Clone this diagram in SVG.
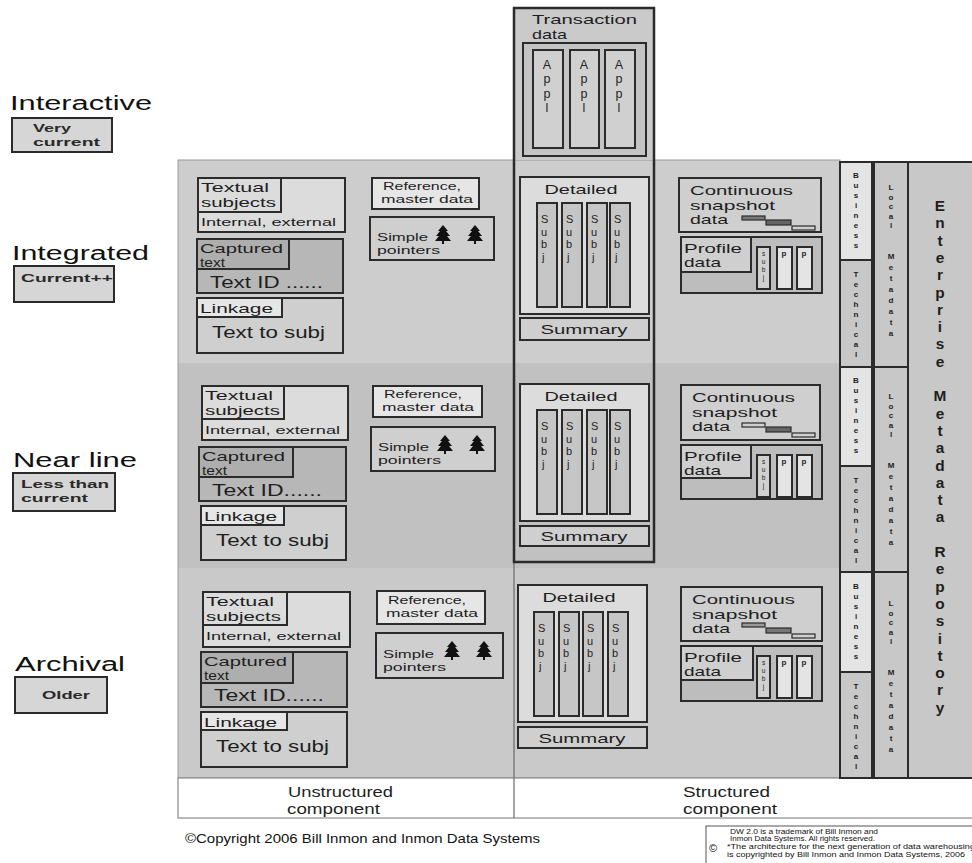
<svg xmlns="http://www.w3.org/2000/svg" width="972" height="863" viewBox="0 0 972 863">
<style>
.b{stroke:#2b2b2b;stroke-width:2}
.bt{stroke:#2b2b2b;stroke-width:2.5;fill:none}
.f{font-family:"Liberation Sans",Arial,sans-serif;fill:#1e1e1e}
.a{font-family:"Liberation Sans",Arial,sans-serif;fill:#111}
.lb{font-family:"Liberation Sans",Arial,sans-serif;fill:#2a2a2a;font-weight:700;font-size:11.5px}
.lt{fill:#dcdcdc}
.md{fill:#cfcfcf}
.dk{fill:#b7b7b7}
.dk2{fill:#aeaeae}
.wh{fill:#e6e6e6}
.col{fill:#c6c6c6;stroke:#2b2b2b;stroke-width:2}
.s13{font-size:13px}
.s12{font-size:12.4px}
.s11{font-size:11px}
.s16{font-size:16px}
.mid{text-anchor:middle}
.lv{font-family:"Liberation Sans",Arial,sans-serif;fill:#1e1e1e}
.sj{font-size:11px}
.ap{font-size:12.5px;text-anchor:middle}
.en{font-size:15.4px;font-weight:700;text-anchor:middle}
.v8{font-size:8px;font-weight:700;text-anchor:middle}
.ps{font-size:6.5px;text-anchor:middle}
</style>
<defs>
<path id="tree" d="M8 0 L13 6 L11 6 L15 11 L12 11 L16 16 L9 16 L9 19 L7 19 L7 16 L0 16 L4 11 L1 11 L5 6 L3 6 Z" fill="#111"/>
</defs>

<rect width="972" height="863" fill="#ffffff"/>

<g id="bands">
<rect x="178" y="160" width="662" height="203" fill="#cdcdcd"/>
<rect x="178" y="363" width="662" height="205" fill="#c1c1c1"/>
<rect x="178" y="568" width="662" height="210" fill="#c9c9c9"/>
<rect x="178" y="160" width="662" height="618" fill="none" stroke="#9a9a9a" stroke-width="1"/>
</g>

<g id="components">
<rect x="178" y="778" width="798" height="40" fill="#ffffff" stroke="#8a8a8a" stroke-width="1.2"/>
<text class="f" font-size="14.8" x="288" y="797" textLength="105" lengthAdjust="spacingAndGlyphs">Unstructured</text>
<text class="f" font-size="14.8" x="287" y="814" textLength="93" lengthAdjust="spacingAndGlyphs">component</text>
<text class="f" font-size="14.8" x="683" y="797" textLength="87" lengthAdjust="spacingAndGlyphs">Structured</text>
<text class="f" font-size="14.8" x="683" y="814" textLength="94" lengthAdjust="spacingAndGlyphs">component</text>
</g>

<g id="connectors">
<line x1="514" y1="160" x2="514" y2="818" stroke="#6a6a6a" stroke-width="1.2"/>
</g>

<!-- left labels -->
<g id="lbl-interactive">
<text class="a" font-size="20" x="10" y="110" textLength="142" lengthAdjust="spacingAndGlyphs">Interactive</text>
<rect class="b" fill="#d6d6d6" x="12" y="118" width="100" height="34"/>
<text class="lb" x="33" y="132" textLength="38" lengthAdjust="spacingAndGlyphs">Very</text>
<text class="lb" x="33" y="146" textLength="67" lengthAdjust="spacingAndGlyphs">current</text>
</g>
<g id="lbl-integrated">
<text class="a" font-size="20" x="12" y="260" textLength="137" lengthAdjust="spacingAndGlyphs">Integrated</text>
<rect class="b" fill="#d6d6d6" x="14" y="266" width="100" height="36"/>
<text class="lb" x="21" y="282" textLength="92" lengthAdjust="spacingAndGlyphs">Current++</text>
</g>
<g id="lbl-nearline">
<text class="a" font-size="20" x="13" y="467" textLength="124" lengthAdjust="spacingAndGlyphs">Near line</text>
<rect class="b" fill="#d6d6d6" x="13" y="473" width="102" height="38"/>
<text class="lb" x="21" y="488" textLength="88" lengthAdjust="spacingAndGlyphs">Less than</text>
<text class="lb" x="21" y="502" textLength="67" lengthAdjust="spacingAndGlyphs">current</text>
</g>
<g id="lbl-archival">
<text class="a" font-size="20" x="15" y="671" textLength="110" lengthAdjust="spacingAndGlyphs">Archival</text>
<rect class="b" fill="#d6d6d6" x="15" y="677" width="92" height="36"/>
<text class="lb" x="42" y="699" textLength="48" lengthAdjust="spacingAndGlyphs">Older</text>
</g>

<!-- Transaction data -->
<g id="transaction">
<rect x="514" y="8" width="140" height="152" fill="#cacaca"/>
<rect class="bt" x="514" y="8" width="140" height="554"/>
<text class="f s13" x="532" y="24" textLength="105" lengthAdjust="spacingAndGlyphs">Transaction</text>
<text class="f s13" x="532" y="39" textLength="35" lengthAdjust="spacingAndGlyphs">data</text>
<rect class="b" fill="#c4c4c4" x="523" y="43" width="123" height="113"/>
<g id="appl1"><rect class="b" fill="#d0d0d0" x="533" y="50" width="30" height="98"/><text class="lv ap"><tspan x="547" y="69">A</tspan><tspan x="547" y="83.3">p</tspan><tspan x="547" y="97.6">p</tspan><tspan x="547" y="111.9">l</tspan></text></g>
<g id="appl2"><rect class="b" fill="#d0d0d0" x="570" y="50" width="29" height="98"/><text class="lv ap"><tspan x="584" y="69">A</tspan><tspan x="584" y="83.3">p</tspan><tspan x="584" y="97.6">p</tspan><tspan x="584" y="111.9">l</tspan></text></g>
<g id="appl3"><rect class="b" fill="#d0d0d0" x="605" y="50" width="30" height="98"/><text class="lv ap"><tspan x="619" y="69">A</tspan><tspan x="619" y="83.3">p</tspan><tspan x="619" y="97.6">p</tspan><tspan x="619" y="111.9">l</tspan></text></g>
</g>

<!-- ===== Unstructured nodes ===== -->
<g id="int-textual" transform="translate(198,178)">
<rect class="b lt" width="147" height="54"/><rect class="b lt" width="83" height="34"/>
<text class="f s13" x="3" y="14" textLength="68" lengthAdjust="spacingAndGlyphs">Textual</text>
<text class="f s13" x="3" y="29" textLength="75" lengthAdjust="spacingAndGlyphs">subjects</text>
<text class="f s11" x="3" y="48" textLength="135" lengthAdjust="spacingAndGlyphs">Internal, external</text>
</g>
<g id="int-captured" transform="translate(197,239)">
<rect class="b dk" width="146" height="54"/><rect class="b dk2" width="92" height="30"/>
<text class="f s12" x="3" y="14" textLength="83" lengthAdjust="spacingAndGlyphs">Captured</text>
<text class="f" font-size="12" x="3" y="28" textLength="25" lengthAdjust="spacingAndGlyphs">text</text>
<text class="f s16" x="13" y="49" textLength="113" lengthAdjust="spacingAndGlyphs">Text ID ......</text>
</g>
<g id="int-linkage" transform="translate(197,298)">
<rect class="b md" width="146" height="55"/><rect class="b wh" width="85" height="19"/>
<text class="f s13" x="3" y="15" textLength="73" lengthAdjust="spacingAndGlyphs">Linkage</text>
<text class="f s16" x="15" y="40" textLength="113" lengthAdjust="spacingAndGlyphs">Text to subj</text>
</g>
<g id="int-reference" transform="translate(372,178)">
<rect class="b wh" width="107" height="31"/>
<text class="f s11" x="11" y="12" textLength="78" lengthAdjust="spacingAndGlyphs">Reference,</text>
<text class="f s11" x="9" y="25" textLength="92" lengthAdjust="spacingAndGlyphs">master data</text>
</g>
<g id="int-pointers" transform="translate(370,217)">
<rect class="b md" width="124" height="43"/>
<text class="f s11" x="7" y="24" textLength="51" lengthAdjust="spacingAndGlyphs">Simple</text>
<text class="f s11" x="7" y="37" textLength="63" lengthAdjust="spacingAndGlyphs">pointers</text>
<use href="#tree" x="65" y="8"/><use href="#tree" x="97" y="8"/>
</g>

<g id="near-textual" transform="translate(202,386)">
<rect class="b lt" width="146" height="54"/><rect class="b lt" width="82" height="33"/>
<text class="f s13" x="3" y="14" textLength="68" lengthAdjust="spacingAndGlyphs">Textual</text>
<text class="f s13" x="3" y="29" textLength="75" lengthAdjust="spacingAndGlyphs">subjects</text>
<text class="f s11" x="3" y="48" textLength="135" lengthAdjust="spacingAndGlyphs">Internal, external</text>
</g>
<g id="near-captured" transform="translate(199,447)">
<rect class="b dk" width="147" height="54"/><rect class="b dk2" width="94" height="30"/>
<text class="f s12" x="3" y="14" textLength="83" lengthAdjust="spacingAndGlyphs">Captured</text>
<text class="f" font-size="12" x="3" y="28" textLength="25" lengthAdjust="spacingAndGlyphs">text</text>
<text class="f s16" x="13" y="49" textLength="110" lengthAdjust="spacingAndGlyphs">Text ID......</text>
</g>
<g id="near-linkage" transform="translate(201,506)">
<rect class="b md" width="145" height="54"/><rect class="b wh" width="83" height="19"/>
<text class="f s13" x="3" y="15" textLength="73" lengthAdjust="spacingAndGlyphs">Linkage</text>
<text class="f s16" x="15" y="40" textLength="113" lengthAdjust="spacingAndGlyphs">Text to subj</text>
</g>
<g id="near-reference" transform="translate(373,386)">
<rect class="b wh" width="109" height="31"/>
<text class="f s11" x="11" y="12" textLength="78" lengthAdjust="spacingAndGlyphs">Reference,</text>
<text class="f s11" x="9" y="25" textLength="92" lengthAdjust="spacingAndGlyphs">master data</text>
</g>
<g id="near-pointers" transform="translate(371,427)">
<rect class="b md" width="124" height="44"/>
<text class="f s11" x="7" y="24" textLength="51" lengthAdjust="spacingAndGlyphs">Simple</text>
<text class="f s11" x="7" y="37" textLength="63" lengthAdjust="spacingAndGlyphs">pointers</text>
<use href="#tree" x="66" y="8"/><use href="#tree" x="98" y="8"/>
</g>

<g id="arch-textual" transform="translate(203,592)">
<rect class="b lt" width="147" height="55"/><rect class="b lt" width="84" height="33"/>
<text class="f s13" x="3" y="14" textLength="68" lengthAdjust="spacingAndGlyphs">Textual</text>
<text class="f s13" x="3" y="29" textLength="75" lengthAdjust="spacingAndGlyphs">subjects</text>
<text class="f s11" x="3" y="48" textLength="135" lengthAdjust="spacingAndGlyphs">Internal, external</text>
</g>
<g id="arch-captured" transform="translate(201,652)">
<rect class="b dk" width="146" height="55"/><rect class="b dk2" width="92" height="31"/>
<text class="f s12" x="3" y="14" textLength="83" lengthAdjust="spacingAndGlyphs">Captured</text>
<text class="f" font-size="12" x="3" y="28" textLength="25" lengthAdjust="spacingAndGlyphs">text</text>
<text class="f s16" x="13" y="49" textLength="110" lengthAdjust="spacingAndGlyphs">Text ID......</text>
</g>
<g id="arch-linkage" transform="translate(201,712)">
<rect class="b md" width="146" height="55"/><rect class="b wh" width="86" height="18"/>
<text class="f s13" x="3" y="15" textLength="73" lengthAdjust="spacingAndGlyphs">Linkage</text>
<text class="f s16" x="15" y="40" textLength="113" lengthAdjust="spacingAndGlyphs">Text to subj</text>
</g>
<g id="arch-reference" transform="translate(377,591)">
<rect class="b wh" width="108" height="33"/>
<text class="f s11" x="11" y="13" textLength="78" lengthAdjust="spacingAndGlyphs">Reference,</text>
<text class="f s11" x="9" y="26" textLength="92" lengthAdjust="spacingAndGlyphs">master data</text>
</g>
<g id="arch-pointers" transform="translate(376,633)">
<rect class="b md" width="127" height="45"/>
<text class="f s11" x="7" y="25" textLength="51" lengthAdjust="spacingAndGlyphs">Simple</text>
<text class="f s11" x="7" y="38" textLength="63" lengthAdjust="spacingAndGlyphs">pointers</text>
<use href="#tree" x="68" y="8"/><use href="#tree" x="100" y="8"/>
</g>

<!-- ===== Structured nodes ===== -->
<g id="int-detailed" transform="translate(520,177)">
<rect class="b lt" width="129" height="137"/>
<text class="f s13 mid" x="61" y="17" textLength="73" lengthAdjust="spacingAndGlyphs">Detailed</text>
<rect class="col" x="17" y="26" width="20" height="104"/><rect class="col" x="42" y="26" width="20" height="104"/><rect class="col" x="67" y="26" width="20" height="104"/><rect class="col" x="90" y="26" width="20" height="104"/>
<text class="lv sj"><tspan x="21" y="46">S</tspan><tspan x="21" y="58.5">u</tspan><tspan x="21" y="71">b</tspan><tspan x="22" y="83.5">j</tspan></text>
<text class="lv sj"><tspan x="46" y="46">S</tspan><tspan x="46" y="58.5">u</tspan><tspan x="46" y="71">b</tspan><tspan x="47" y="83.5">j</tspan></text>
<text class="lv sj"><tspan x="71" y="46">S</tspan><tspan x="71" y="58.5">u</tspan><tspan x="71" y="71">b</tspan><tspan x="72" y="83.5">j</tspan></text>
<text class="lv sj"><tspan x="94" y="46">S</tspan><tspan x="94" y="58.5">u</tspan><tspan x="94" y="71">b</tspan><tspan x="95" y="83.5">j</tspan></text>
</g>
<g id="int-summary" transform="translate(520,318)">
<rect class="b md" width="129" height="22"/><text class="f s13 mid" x="64" y="16" textLength="87" lengthAdjust="spacingAndGlyphs">Summary</text>
</g>
<g id="int-snapshot" transform="translate(679,178)">
<rect class="b md" width="142" height="54"/>
<text class="f s12" x="11" y="17" textLength="103" lengthAdjust="spacingAndGlyphs">Continuous</text>
<text class="f s12" x="11" y="32" textLength="85" lengthAdjust="spacingAndGlyphs">snapshot</text>
<text class="f s12" x="11" y="46" textLength="38" lengthAdjust="spacingAndGlyphs">data</text>
<rect x="63" y="38" width="23" height="4" fill="#7a7a7a" stroke="#2b2b2b" stroke-width="1.2"/>
<rect x="87" y="42" width="25" height="5" fill="#666" stroke="#2b2b2b" stroke-width="1.2"/>
<rect x="113" y="48" width="23" height="4" fill="#cfcfcf" stroke="#2b2b2b" stroke-width="1.2"/>
</g>
<g id="int-profile" transform="translate(681,237)">
<rect class="b" fill="#bdbdbd" width="141" height="56"/><rect class="b md" width="70" height="35"/>
<text class="f s12" x="3" y="16" textLength="58" lengthAdjust="spacingAndGlyphs">Profile</text>
<text class="f s12" x="3" y="30" textLength="37" lengthAdjust="spacingAndGlyphs">data</text>
<rect class="b" fill="#d0d0d0" x="76" y="10" width="13" height="42"/><rect class="b" fill="#e4e4e4" x="96" y="10" width="15" height="42"/><rect class="b" fill="#e4e4e4" x="116" y="10" width="15" height="42"/>
<text class="lv ps"><tspan x="82.5" y="19">s</tspan><tspan x="82.5" y="27">u</tspan><tspan x="82.5" y="35">b</tspan><tspan x="82.5" y="43">j</tspan></text>
<text class="f mid" font-size="8" font-weight="700" x="103" y="19">p</text><text class="f mid" font-size="8" font-weight="700" x="123" y="19">p</text>
</g>

<g id="near-detailed" transform="translate(520,384)">
<rect class="b lt" width="129" height="137"/>
<text class="f s13 mid" x="61" y="17" textLength="73" lengthAdjust="spacingAndGlyphs">Detailed</text>
<rect class="col" x="17" y="26" width="20" height="104"/><rect class="col" x="42" y="26" width="20" height="104"/><rect class="col" x="67" y="26" width="20" height="104"/><rect class="col" x="90" y="26" width="20" height="104"/>
<text class="lv sj"><tspan x="21" y="46">S</tspan><tspan x="21" y="58.5">u</tspan><tspan x="21" y="71">b</tspan><tspan x="22" y="83.5">j</tspan></text>
<text class="lv sj"><tspan x="46" y="46">S</tspan><tspan x="46" y="58.5">u</tspan><tspan x="46" y="71">b</tspan><tspan x="47" y="83.5">j</tspan></text>
<text class="lv sj"><tspan x="71" y="46">S</tspan><tspan x="71" y="58.5">u</tspan><tspan x="71" y="71">b</tspan><tspan x="72" y="83.5">j</tspan></text>
<text class="lv sj"><tspan x="94" y="46">S</tspan><tspan x="94" y="58.5">u</tspan><tspan x="94" y="71">b</tspan><tspan x="95" y="83.5">j</tspan></text>
</g>
<g id="near-summary" transform="translate(520,526)">
<rect class="b md" width="129" height="20"/><text class="f s13 mid" x="64" y="15" textLength="87" lengthAdjust="spacingAndGlyphs">Summary</text>
</g>
<g id="near-snapshot" transform="translate(681,385)">
<rect class="b md" width="139" height="55"/>
<text class="f s12" x="11" y="17" textLength="103" lengthAdjust="spacingAndGlyphs">Continuous</text>
<text class="f s12" x="11" y="32" textLength="85" lengthAdjust="spacingAndGlyphs">snapshot</text>
<text class="f s12" x="11" y="46" textLength="38" lengthAdjust="spacingAndGlyphs">data</text>
<rect x="61" y="38" width="23" height="4" fill="#cfcfcf" stroke="#2b2b2b" stroke-width="1.2"/>
<rect x="85" y="42" width="25" height="5" fill="#666" stroke="#2b2b2b" stroke-width="1.2"/>
<rect x="111" y="48" width="23" height="4" fill="#cfcfcf" stroke="#2b2b2b" stroke-width="1.2"/>
</g>
<g id="near-profile" transform="translate(681,445)">
<rect class="b" fill="#bdbdbd" width="141" height="54"/><rect class="b md" width="70" height="33"/>
<text class="f s12" x="3" y="16" textLength="58" lengthAdjust="spacingAndGlyphs">Profile</text>
<text class="f s12" x="3" y="30" textLength="37" lengthAdjust="spacingAndGlyphs">data</text>
<rect class="b" fill="#d0d0d0" x="76" y="10" width="13" height="42"/><rect class="b" fill="#e4e4e4" x="96" y="10" width="15" height="42"/><rect class="b" fill="#e4e4e4" x="116" y="10" width="15" height="42"/>
<text class="lv ps"><tspan x="82.5" y="19">s</tspan><tspan x="82.5" y="27">u</tspan><tspan x="82.5" y="35">b</tspan><tspan x="82.5" y="43">j</tspan></text>
<text class="f mid" font-size="8" font-weight="700" x="103" y="19">p</text><text class="f mid" font-size="8" font-weight="700" x="123" y="19">p</text>
</g>

<g id="arch-detailed" transform="translate(518,585)">
<rect class="b lt" width="129" height="137"/>
<text class="f s13 mid" x="61" y="17" textLength="73" lengthAdjust="spacingAndGlyphs">Detailed</text>
<rect class="col" x="16" y="27" width="20" height="104"/><rect class="col" x="41" y="27" width="20" height="104"/><rect class="col" x="65" y="27" width="20" height="104"/><rect class="col" x="90" y="27" width="20" height="104"/>
<text class="lv sj"><tspan x="20" y="47">S</tspan><tspan x="20" y="59.5">u</tspan><tspan x="20" y="72">b</tspan><tspan x="21" y="84.5">j</tspan></text>
<text class="lv sj"><tspan x="45" y="47">S</tspan><tspan x="45" y="59.5">u</tspan><tspan x="45" y="72">b</tspan><tspan x="46" y="84.5">j</tspan></text>
<text class="lv sj"><tspan x="69" y="47">S</tspan><tspan x="69" y="59.5">u</tspan><tspan x="69" y="72">b</tspan><tspan x="70" y="84.5">j</tspan></text>
<text class="lv sj"><tspan x="94" y="47">S</tspan><tspan x="94" y="59.5">u</tspan><tspan x="94" y="72">b</tspan><tspan x="95" y="84.5">j</tspan></text>
</g>
<g id="arch-summary" transform="translate(518,727)">
<rect class="b md" width="129" height="21"/><text class="f s13 mid" x="64" y="16" textLength="87" lengthAdjust="spacingAndGlyphs">Summary</text>
</g>
<g id="arch-snapshot" transform="translate(681,587)">
<rect class="b md" width="141" height="54"/>
<text class="f s12" x="11" y="17" textLength="103" lengthAdjust="spacingAndGlyphs">Continuous</text>
<text class="f s12" x="11" y="32" textLength="85" lengthAdjust="spacingAndGlyphs">snapshot</text>
<text class="f s12" x="11" y="46" textLength="38" lengthAdjust="spacingAndGlyphs">data</text>
<rect x="61" y="36" width="23" height="4" fill="#9a9a9a" stroke="#2b2b2b" stroke-width="1.2"/>
<rect x="85" y="41" width="25" height="5" fill="#777" stroke="#2b2b2b" stroke-width="1.2"/>
<rect x="111" y="47" width="23" height="4" fill="#cfcfcf" stroke="#2b2b2b" stroke-width="1.2"/>
</g>
<g id="arch-profile" transform="translate(681,646)">
<rect class="b" fill="#bdbdbd" width="141" height="55"/><rect class="b md" width="72" height="34"/>
<text class="f s12" x="3" y="16" textLength="58" lengthAdjust="spacingAndGlyphs">Profile</text>
<text class="f s12" x="3" y="30" textLength="37" lengthAdjust="spacingAndGlyphs">data</text>
<rect class="b" fill="#d0d0d0" x="76" y="10" width="13" height="42"/><rect class="b" fill="#e4e4e4" x="96" y="10" width="15" height="42"/><rect class="b" fill="#e4e4e4" x="116" y="10" width="15" height="42"/>
<text class="lv ps"><tspan x="82.5" y="19">s</tspan><tspan x="82.5" y="27">u</tspan><tspan x="82.5" y="35">b</tspan><tspan x="82.5" y="43">j</tspan></text>
<text class="f mid" font-size="8" font-weight="700" x="103" y="19">p</text><text class="f mid" font-size="8" font-weight="700" x="123" y="19">p</text>
</g>

<!-- ===== Metadata ===== -->
<g id="enterprise">
<rect class="b" fill="#c8c8c8" x="908" y="162" width="70" height="616"/>
<text class="lv en"><tspan x="940" y="211">E</tspan><tspan x="940" y="228.3">n</tspan><tspan x="940" y="245.6">t</tspan><tspan x="940" y="262.9">e</tspan><tspan x="940" y="280.2">r</tspan><tspan x="940" y="297.5">p</tspan><tspan x="940" y="314.8">r</tspan><tspan x="940" y="332.1">i</tspan><tspan x="940" y="349.4">s</tspan><tspan x="940" y="366.7">e</tspan><tspan x="940" y="401.3">M</tspan><tspan x="940" y="418.6">e</tspan><tspan x="940" y="435.9">t</tspan><tspan x="940" y="453.2">a</tspan><tspan x="940" y="470.5">d</tspan><tspan x="940" y="487.8">a</tspan><tspan x="940" y="505.1">t</tspan><tspan x="940" y="522.4">a</tspan><tspan x="940" y="557">R</tspan><tspan x="940" y="574.3">e</tspan><tspan x="940" y="591.6">p</tspan><tspan x="940" y="608.9">o</tspan><tspan x="940" y="626.2">s</tspan><tspan x="940" y="643.5">i</tspan><tspan x="940" y="660.8">t</tspan><tspan x="940" y="678.1">o</tspan><tspan x="940" y="695.4">r</tspan><tspan x="940" y="712.7">y</tspan></text>
</g>

<g id="int-business"><rect class="b" fill="#e4e4e4" x="840" y="162" width="32" height="98"/>
<text class="lv v8"><tspan x="856" y="178">B</tspan><tspan x="856" y="188">u</tspan><tspan x="856" y="198">s</tspan><tspan x="856" y="208">i</tspan><tspan x="856" y="218">n</tspan><tspan x="856" y="228">e</tspan><tspan x="856" y="238">s</tspan><tspan x="856" y="248">s</tspan></text></g>
<g id="int-technical"><rect class="b" fill="#c8c8c8" x="840" y="260" width="32" height="107"/>
<text class="lv v8"><tspan x="856" y="277">T</tspan><tspan x="856" y="287">e</tspan><tspan x="856" y="297">c</tspan><tspan x="856" y="307">h</tspan><tspan x="856" y="317">n</tspan><tspan x="856" y="327">i</tspan><tspan x="856" y="337">c</tspan><tspan x="856" y="347">a</tspan><tspan x="856" y="357">l</tspan></text></g>
<g id="int-local"><rect class="b" fill="#c8c8c8" x="874" y="162" width="34" height="205"/>
<text class="lv v8"><tspan x="891" y="190">L</tspan><tspan x="891" y="199.5">o</tspan><tspan x="891" y="209">c</tspan><tspan x="891" y="218.5">a</tspan><tspan x="891" y="228">l</tspan><tspan x="891" y="259">M</tspan><tspan x="891" y="270">e</tspan><tspan x="891" y="281">t</tspan><tspan x="891" y="292">a</tspan><tspan x="891" y="303">d</tspan><tspan x="891" y="314">a</tspan><tspan x="891" y="325">t</tspan><tspan x="891" y="336">a</tspan></text></g>

<g id="near-business"><rect class="b" fill="#e4e4e4" x="840" y="367" width="32" height="99"/>
<text class="lv v8"><tspan x="856" y="383">B</tspan><tspan x="856" y="393">u</tspan><tspan x="856" y="403">s</tspan><tspan x="856" y="413">i</tspan><tspan x="856" y="423">n</tspan><tspan x="856" y="433">e</tspan><tspan x="856" y="443">s</tspan><tspan x="856" y="453">s</tspan></text></g>
<g id="near-technical"><rect class="b" fill="#c8c8c8" x="840" y="466" width="32" height="106"/>
<text class="lv v8"><tspan x="856" y="483">T</tspan><tspan x="856" y="493">e</tspan><tspan x="856" y="503">c</tspan><tspan x="856" y="513">h</tspan><tspan x="856" y="523">n</tspan><tspan x="856" y="533">i</tspan><tspan x="856" y="543">c</tspan><tspan x="856" y="553">a</tspan><tspan x="856" y="563">l</tspan></text></g>
<g id="near-local"><rect class="b" fill="#c8c8c8" x="874" y="367" width="34" height="205"/>
<text class="lv v8"><tspan x="891" y="399">L</tspan><tspan x="891" y="408.5">o</tspan><tspan x="891" y="418">c</tspan><tspan x="891" y="427.5">a</tspan><tspan x="891" y="437">l</tspan><tspan x="891" y="468">M</tspan><tspan x="891" y="479">e</tspan><tspan x="891" y="490">t</tspan><tspan x="891" y="501">a</tspan><tspan x="891" y="512">d</tspan><tspan x="891" y="523">a</tspan><tspan x="891" y="534">t</tspan><tspan x="891" y="545">a</tspan></text></g>

<g id="arch-business"><rect class="b" fill="#e4e4e4" x="840" y="572" width="32" height="100"/>
<text class="lv v8"><tspan x="856" y="589">B</tspan><tspan x="856" y="599">u</tspan><tspan x="856" y="609">s</tspan><tspan x="856" y="619">i</tspan><tspan x="856" y="629">n</tspan><tspan x="856" y="639">e</tspan><tspan x="856" y="649">s</tspan><tspan x="856" y="659">s</tspan></text></g>
<g id="arch-technical"><rect class="b" fill="#c8c8c8" x="840" y="672" width="32" height="106"/>
<text class="lv v8"><tspan x="856" y="689">T</tspan><tspan x="856" y="699">e</tspan><tspan x="856" y="709">c</tspan><tspan x="856" y="719">h</tspan><tspan x="856" y="729">n</tspan><tspan x="856" y="739">i</tspan><tspan x="856" y="749">c</tspan><tspan x="856" y="759">a</tspan><tspan x="856" y="769">l</tspan></text></g>
<g id="arch-local"><rect class="b" fill="#c8c8c8" x="874" y="572" width="34" height="206"/>
<text class="lv v8"><tspan x="891" y="606">L</tspan><tspan x="891" y="615.5">o</tspan><tspan x="891" y="625">c</tspan><tspan x="891" y="634.5">a</tspan><tspan x="891" y="644">l</tspan><tspan x="891" y="675">M</tspan><tspan x="891" y="686">e</tspan><tspan x="891" y="697">t</tspan><tspan x="891" y="708">a</tspan><tspan x="891" y="719">d</tspan><tspan x="891" y="730">a</tspan><tspan x="891" y="741">t</tspan><tspan x="891" y="752">a</tspan></text></g>

<!-- footer -->
<g id="copyright">
<text class="a" font-size="12.5" x="185" y="843" textLength="355" lengthAdjust="spacingAndGlyphs">©Copyright 2006 Bill Inmon and Inmon Data Systems</text>
</g>
<g id="trademark">
<rect x="706" y="826" width="270" height="40" fill="#ffffff" stroke="#555" stroke-width="1"/>
<text class="a" font-size="11" x="709" y="852">©</text>
<text class="a" font-size="6.3" x="730" y="834" textLength="148" lengthAdjust="spacingAndGlyphs">DW 2.0 is a trademark of Bill Inmon and</text>
<text class="a" font-size="6.3" x="730" y="841" textLength="145" lengthAdjust="spacingAndGlyphs">Inmon Data Systems. All rights reserved.</text>
<text class="a" font-size="6.3" x="727" y="849" textLength="248" lengthAdjust="spacingAndGlyphs">*The architecture for the next generation of data warehousing</text>
<text class="a" font-size="6.3" x="727" y="857" textLength="238" lengthAdjust="spacingAndGlyphs">is copyrighted by Bill Inmon and Inmon Data Systems, 2006</text>
</g>
</svg>
